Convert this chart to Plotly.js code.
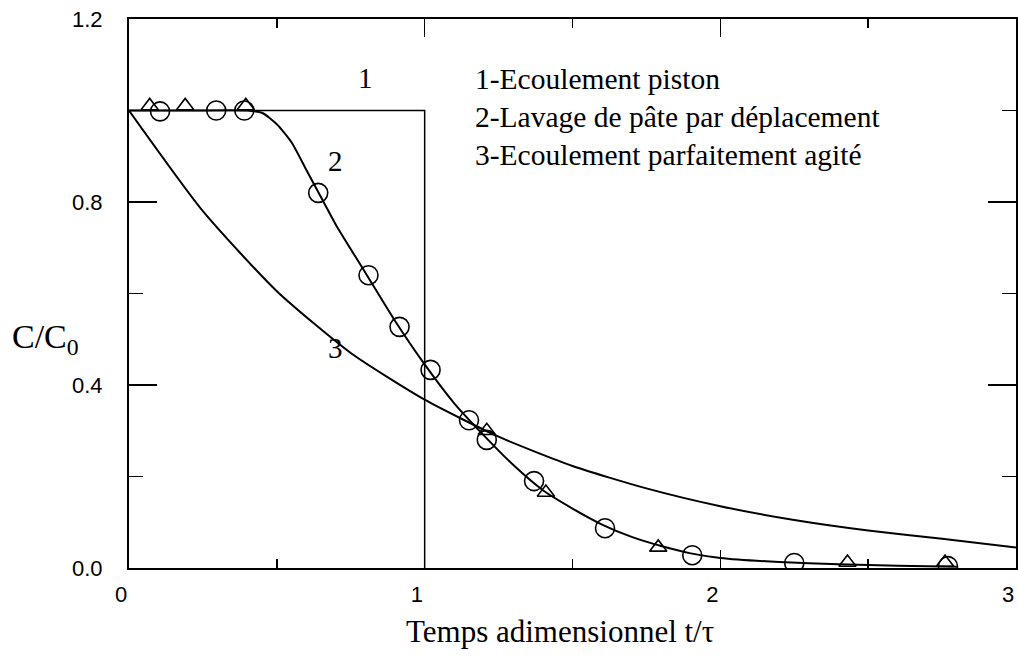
<!DOCTYPE html>
<html>
<head>
<meta charset="utf-8">
<script src="https://cdn.plot.ly/plotly-3.0.1.min.js"></script>
<style>html,body{margin:0;padding:0;background:#fff;}</style>
</head>
<body>
<div id="chart" style="width:1018px;height:659px;"></div>
<script>
// Curve 1 : plug flow
const pistonX = [0, 1, 1];
const pistonY = [1, 1, 0];

// Curve 2 : displacement washing (fitted line)
const lavageX = [0, 0.2, 0.4, 0.45, 0.5, 0.55, 0.6, 0.65, 0.7, 0.8, 0.9, 1.0, 1.1, 1.2, 1.3, 1.4, 1.5, 1.6, 1.7, 1.8, 1.9, 2.0, 2.2, 2.4, 2.6, 2.8];
const lavageY = [1, 1, 1, 0.995, 0.97, 0.93, 0.87, 0.81, 0.75, 0.645, 0.54, 0.445, 0.36, 0.29, 0.225, 0.17, 0.13, 0.095, 0.068, 0.048, 0.032, 0.022, 0.013, 0.008, 0.005, 0.003];

// Curve 3 : perfectly mixed flow
const agiteX = [0, 0.25, 0.5, 0.75, 1, 1.25, 1.5, 1.75, 2, 2.25, 2.5, 2.75, 3];
const agiteY = [1, 0.78, 0.605, 0.47, 0.368, 0.287, 0.223, 0.174, 0.135, 0.105, 0.082, 0.064, 0.045];

// Experimental points
const cercleX = [0.105, 0.295, 0.39, 0.64, 0.81, 0.915, 1.02, 1.15, 1.21, 1.37, 1.61, 1.905, 2.25, 2.77];
const cercleY = [0.998, 1.0, 1.0, 0.82, 0.64, 0.527, 0.433, 0.323, 0.28, 0.19, 0.087, 0.028, 0.011, 0.004];
const triangleX = [0.07, 0.19, 0.395, 1.21, 1.41, 1.79, 2.43, 2.76];
const triangleY = [1.01, 1.01, 1.01, 0.30, 0.165, 0.045, 0.012, 0.012];

// Texts
const xTicks = [0, 1, 2, 3];
const xTickText = ["0", "1", "2", "3"];
const yTicks = [0, 0.4, 0.8, 1.2];
const yTickText = ["0.0", "0.4", "0.8", "1.2"];
const curveLabels = ["1", "2", "3"];
const curveLabelX = [0.80, 0.70, 0.70];
const curveLabelY = [1.072, 0.89, 0.48];
const legendLines = ["1-Ecoulement piston", "2-Lavage de pâte par déplacement", "3-Ecoulement parfaitement agité"];
const legendY = [1.069, 0.986, 0.902];
const xTitle = "Temps adimensionnel t/τ";
const yTitle = "C/C<sub>0</sub>";

const lineStyle = {color: "#000", width: 2};
const traces = [
  {x: pistonX, y: pistonY, mode: "lines", line: {color: "#000", width: 1.5}, hoverinfo: "skip"},
  {x: lavageX, y: lavageY, mode: "lines", line: Object.assign({shape: "spline", smoothing: 0.6}, lineStyle), hoverinfo: "skip"},
  {x: agiteX, y: agiteY, mode: "lines", line: Object.assign({shape: "spline", smoothing: 0.6}, lineStyle), hoverinfo: "skip"},
  {x: cercleX, y: cercleY, mode: "markers", marker: {symbol: "circle-open", size: 19, color: "#000", line: {width: 1.6, color: "#000"}}, hoverinfo: "skip"},
  {x: triangleX, y: triangleY, mode: "markers", marker: {symbol: "triangle-up-open", size: 15, color: "#000", line: {width: 1.6, color: "#000"}}, hoverinfo: "skip"}
];

const serif = "Liberation Serif, Times New Roman, serif";
const annotations = [];
curveLabels.forEach((t, i) => annotations.push({
  text: t, x: curveLabelX[i], y: curveLabelY[i], xref: "x", yref: "y",
  showarrow: false, font: {family: serif, size: 29, color: "#000"}
}));
legendLines.forEach((t, i) => annotations.push({
  text: t, x: 1.162, y: legendY[i], xref: "x", yref: "y", xanchor: "left",
  showarrow: false, font: {family: serif, size: 29.5, color: "#000"}
}));
annotations.push({text: xTitle, x: 0.486, y: -0.115, xref: "paper", yref: "paper",
  xanchor: "center", yanchor: "middle", showarrow: false, font: {family: serif, size: 31, color: "#000"}});
annotations.push({text: yTitle, x: -0.094, y: 0.418, xref: "paper", yref: "paper",
  xanchor: "center", yanchor: "middle", showarrow: false, font: {family: serif, size: 34, color: "#000"}});

const layout = {
  width: 1018, height: 659, autosize: false,
  margin: {l: 129, r: 2, t: 19, b: 91},
  paper_bgcolor: "#fff", plot_bgcolor: "#fff",
  showlegend: false,
  xaxis: {
    range: [0, 3], showgrid: false, zeroline: false,
    showline: true, linewidth: 2, linecolor: "#000", mirror: "ticks",
    ticks: "inside", ticklen: 18, tickwidth: 1.5, tickcolor: "#000",
    tickvals: xTicks, ticktext: xTickText, ticklabelstandoff: 6,
    ticklabelposition: "outside left",
    minor: {ticks: "inside", ticklen: 9, tickwidth: 1.5, tickcolor: "#000", dtick: 0.5, tick0: 0, showgrid: false},
    tickfont: {family: "Liberation Sans, Arial, sans-serif", size: 22, color: "#000"}
  },
  yaxis: {
    range: [0, 1.2], showgrid: false, zeroline: false,
    showline: true, linewidth: 2, linecolor: "#000", mirror: "ticks",
    ticks: "inside", ticklen: 28, tickwidth: 1.5, tickcolor: "#000",
    tickvals: yTicks, ticktext: yTickText, ticklabelstandoff: 20,
    ticklabeloverflow: "allow",
    minor: {ticks: "inside", ticklen: 14, tickwidth: 1.5, tickcolor: "#000", dtick: 0.2, tick0: 0, showgrid: false},
    tickfont: {family: "Liberation Sans, Arial, sans-serif", size: 22, color: "#000"}
  },
  annotations: annotations
};

Plotly.newPlot("chart", traces, layout, {displayModeBar: false, staticPlot: true});
</script>
</body>
</html>
